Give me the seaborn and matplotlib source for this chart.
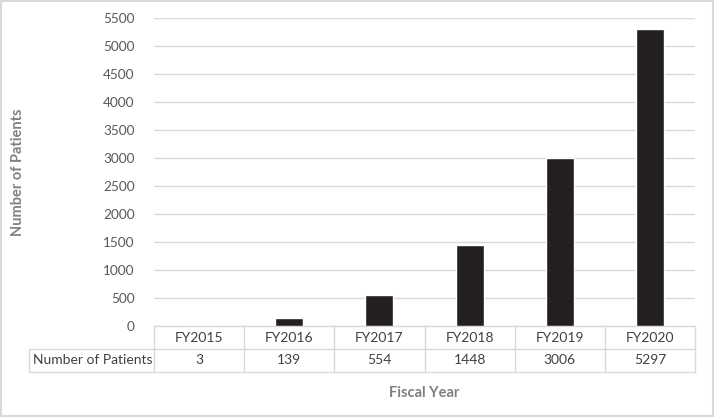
import matplotlib
matplotlib.use('Agg')
import matplotlib.pyplot as plt
import seaborn as sns
import pandas as pd

years = ['FY2015', 'FY2016', 'FY2017', 'FY2018', 'FY2019', 'FY2020']
patients = [3, 139, 554, 1448, 3006, 5297]
yticks = list(range(0, 5501, 500))

sns.set_style('white')
plt.rcParams['font.family'] = ['Lato', 'DejaVu Sans']

df = pd.DataFrame({'year': years, 'patients': patients})

W, H = 714, 417
L, R, T, B = 154, 695, 18, 326
pw, ph = R - L, B - T

fig = plt.figure(figsize=(W / 100, H / 100), dpi=100)
ax = fig.add_axes([L / W, 1 - B / H, pw / W, ph / H])

sns.barplot(data=df, x='year', y='patients', color='#231f20', width=0.31,
            saturation=1, ax=ax, zorder=3)

ax.set_ylim(0, 5500)
ax.set_xlim(-0.5, 5.5)
ax.set_yticks(yticks)
ax.set_yticklabels([str(t) for t in yticks])
ax.tick_params(axis='y', length=0, pad=14, labelsize=9.8, labelcolor='#595959')
ax.tick_params(axis='x', length=0, labelbottom=False)
ax.yaxis.grid(True, color='#d9d9d9', linewidth=1)
ax.set_axisbelow(True)
for s in ax.spines.values():
    s.set_visible(False)

ax.set_ylabel('Number of Patients', fontsize=10.5, fontweight='bold', color='#808080')
ax.yaxis.set_label_coords((25 - L) / pw, 0.5)
ax.set_xlabel('Fiscal Year', fontsize=10.5, fontweight='bold', color='#808080')
ax.xaxis.set_label_coords(0.5, -(386 - B) / ph)

# data table under the axis
row_h = 23 / ph
lab_x = (29 - L) / pw
grid_kw = dict(color='#d9d9d9', linewidth=1, transform=ax.transAxes, clip_on=False)
ax.plot([0, 1], [0, 0], **grid_kw)
ax.plot([lab_x, 1], [-row_h, -row_h], **grid_kw)
ax.plot([lab_x, 1], [-2 * row_h, -2 * row_h], **grid_kw)
for i in range(len(years) + 1):
    ax.plot([i / 6, i / 6], [0, -2 * row_h], **grid_kw)
ax.plot([lab_x, lab_x], [-row_h, -2 * row_h], **grid_kw)

txt_kw = dict(transform=ax.transAxes, fontsize=10, color='#404040', va='center')
for i, (yr, v) in enumerate(zip(years, patients)):
    ax.text((i + 0.5) / 6, -0.5 * row_h, yr, ha='center', **txt_kw)
    ax.text((i + 0.5) / 6, -1.5 * row_h, str(v), ha='center', **txt_kw)
ax.text((33 - L) / pw, -1.5 * row_h, 'Number of Patients', ha='left', **txt_kw)

fig.patches.append(plt.Rectangle((0.001, 0.002), 0.997, 0.995, transform=fig.transFigure,
                                 fill=False, edgecolor='#d9d9d9', linewidth=1.5))

fig.savefig('out.png', dpi=100)
